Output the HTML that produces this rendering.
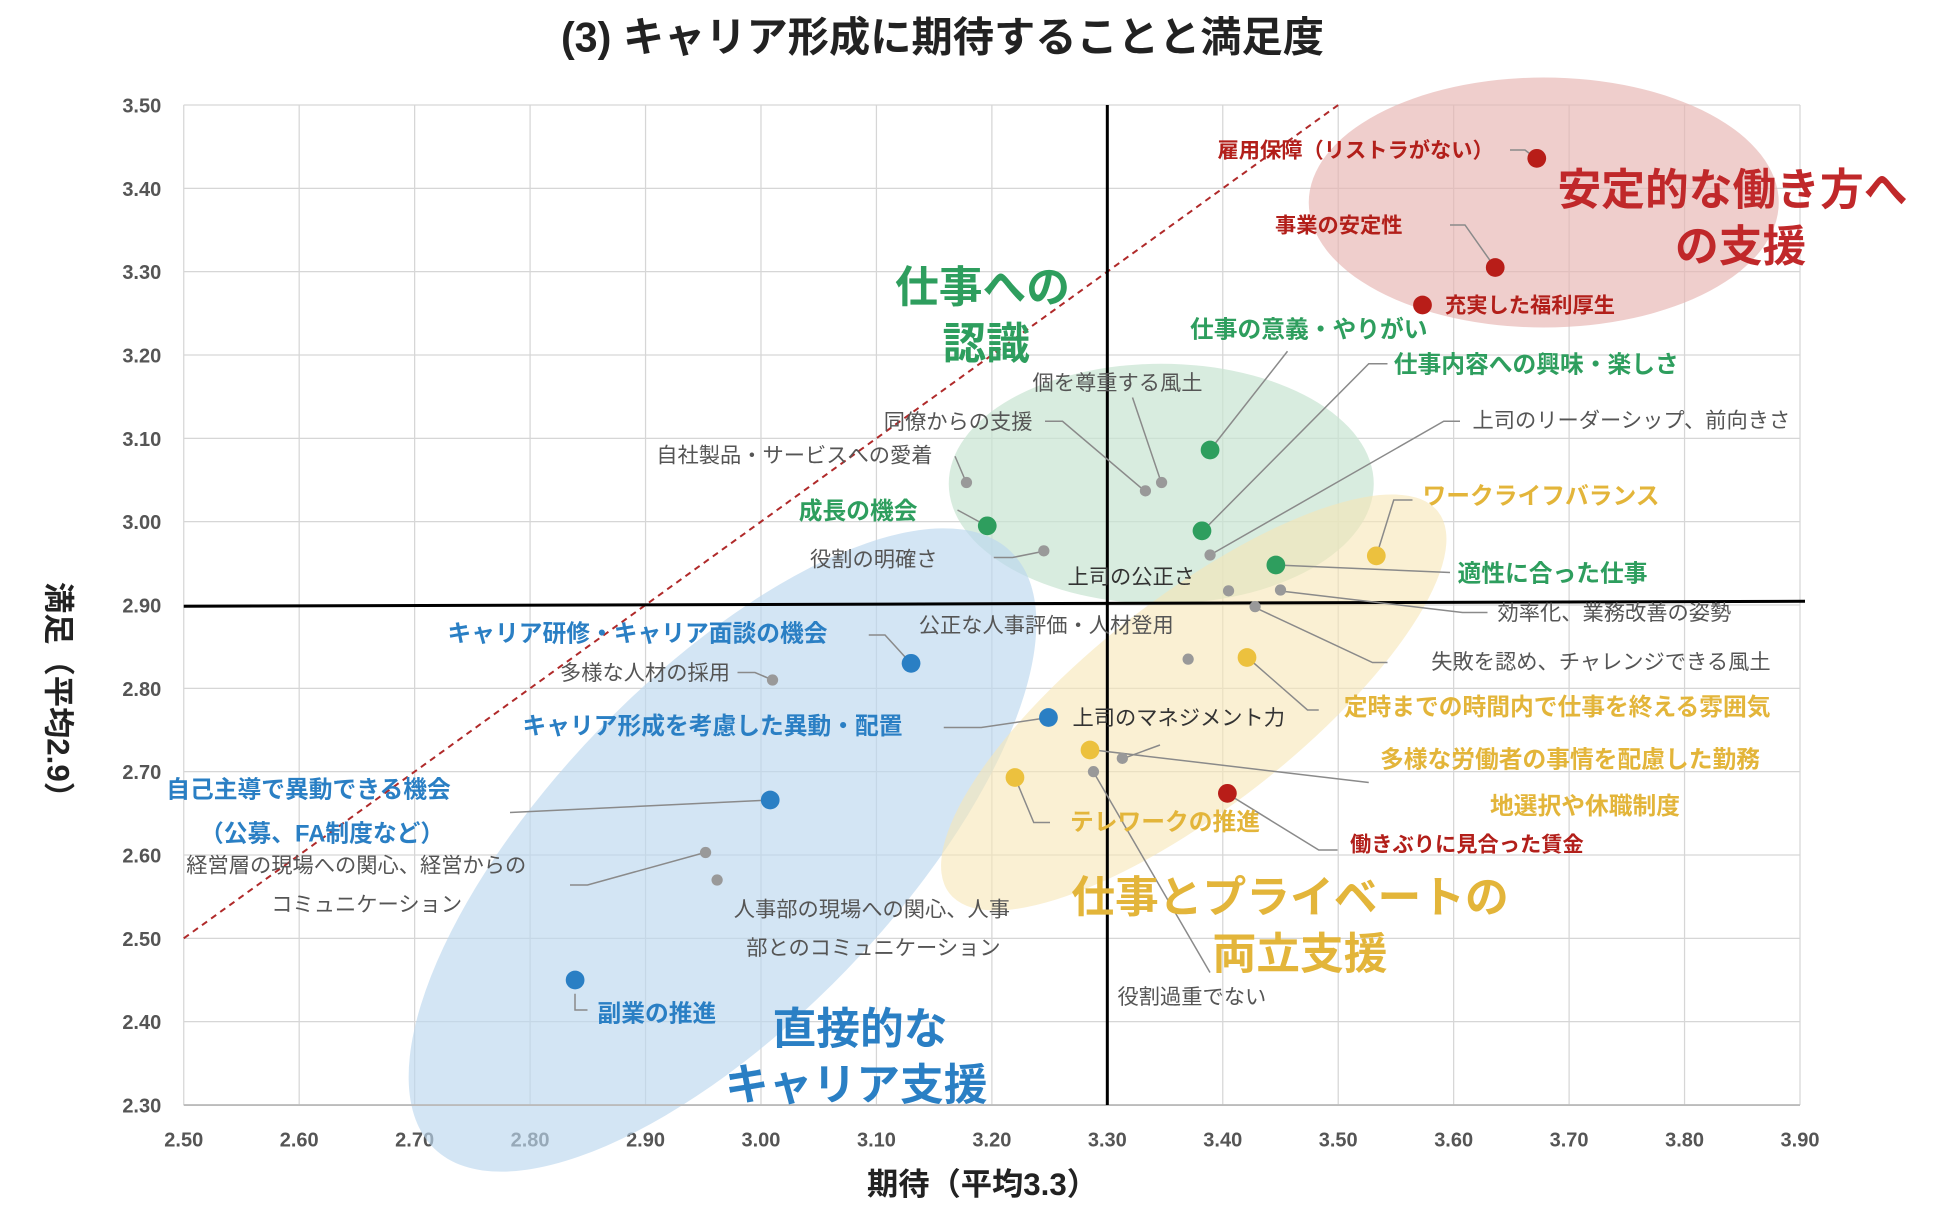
<!DOCTYPE html>
<html><head><meta charset="utf-8"><style>
html,body{margin:0;padding:0;background:#fff;}
svg{display:block;font-family:"Liberation Sans","Noto Sans CJK JP",sans-serif;}
</style></head><body>
<svg id="chart" width="1950" height="1215" viewBox="0 0 1560 972" xmlns="http://www.w3.org/2000/svg">
<text x="754" y="41" text-anchor="middle" font-size="33" font-weight="bold" fill="#222">(3) キャリア形成に期待することと満足度</text>
<g id="grid"></g>
<g id="zones">
<ellipse cx="1235" cy="162" rx="188" ry="100" fill="#e6b3b0" opacity="0.65"/>
<ellipse cx="929" cy="387" rx="170" ry="96" fill="#c8e4d2" opacity="0.7"/>
<ellipse cx="578" cy="680" rx="332" ry="138" transform="rotate(-46 578 680)" fill="#bcd7ee" opacity="0.65"/>
<ellipse cx="955" cy="562" rx="248" ry="84" transform="rotate(-38 955 562)" fill="#f6e6b6" opacity="0.6"/>
</g>
<g id="axes"></g>
<g id="leaders" stroke="#8a8a8a" stroke-width="1.2" fill="none">
<polyline points="1208,120 1220,120 1229,127"/>
<polyline points="1160,180 1172,180 1196,214"/>
<polyline points="1030,281 968,360"/>
<polyline points="1110,291 1095,291 962,425"/>
<polyline points="1168,337 1155,337 968,444"/>
<polyline points="1130,400 1115,400 1101,445"/>
<polyline points="1160,458 1021,452"/>
<polyline points="1190,490 1170,490 1026,473"/>
<polyline points="1110,530 1098,530 1004,486"/>
<polyline points="1055,568 1046,568 998,526"/>
<polyline points="1095,626 875,600"/>
<polyline points="928,596 898,607"/>
<polyline points="1070,680 1055,680 982,635"/>
<polyline points="840,658 827,658 812,622"/>
<polyline points="968,778 875,618"/>
<polyline points="764,365 773,386"/>
<polyline points="836,337 850,337 916,393"/>
<polyline points="906,318 929,386"/>
<polyline points="766,408 790,421"/>
<polyline points="795,446 810,446 835,441"/>
<polyline points="695,508 708,508 729,531"/>
<polyline points="590,538 604,538 618,544"/>
<polyline points="755,582 785,582 839,574"/>
<polyline points="408,650 616,640"/>
<polyline points="456,708 470,708 564,682"/>
<polyline points="460,795 460,808 470,808"/>
</g>
<g id="points"></g>
<g id="labels" font-size="17">
<g font-weight="bold" fill="#b21f1a">
<text x="1195" y="126" text-anchor="end">雇用保障（リストラがない）</text>
<text x="1122" y="186" text-anchor="end">事業の安定性</text>
<text x="1156" y="250">充実した福利厚生</text>
<text x="1080" y="681">働きぶりに見合った賃金</text>
</g>
<g font-weight="bold" fill="#2e9e5e" font-size="19">
<text x="1142" y="270" text-anchor="end">仕事の意義・やりがい</text>
<text x="1115" y="298">仕事内容への興味・楽しさ</text>
<text x="734" y="415" text-anchor="end">成長の機会</text>
<text x="1166" y="465">適性に合った仕事</text>
</g>
<g font-weight="bold" fill="#e3b53a" font-size="19">
<text x="1138" y="403">ワークライフバランス</text>
<text x="1075" y="572">定時までの時間内で仕事を終える雰囲気</text>
<text x="1104" y="614">多様な労働者の事情を配慮した勤務</text>
<text x="1192" y="651">地選択や休職制度</text>
<text x="856" y="664">テレワークの推進</text>
</g>
<g font-weight="bold" fill="#2a7fc4" font-size="19">
<text x="662" y="513" text-anchor="end">キャリア研修・キャリア面談の機会</text>
<text x="722" y="587" text-anchor="end">キャリア形成を考慮した異動・配置</text>
<text x="133" y="638">自己主導で異動できる機会</text>
<text x="160" y="673">（公募、FA制度など）</text>
<text x="478" y="817">副業の推進</text>
</g>
<g fill="#555">
<text x="826" y="312">個を尊重する風土</text>
<text x="826" y="343" text-anchor="end">同僚からの支援</text>
<text x="746" y="370" text-anchor="end">自社製品・サービスへの愛着</text>
<text x="1178" y="342">上司のリーダーシップ、前向きさ</text>
<text x="750" y="453" text-anchor="end">役割の明確さ</text>
<text x="854" y="467" fill="#333">上司の公正さ</text>
<text x="1198" y="496">効率化、業務改善の姿勢</text>
<text x="735" y="506">公正な人事評価・人材登用</text>
<text x="1145" y="535">失敗を認め、チャレンジできる風土</text>
<text x="584" y="544" text-anchor="end">多様な人材の採用</text>
<text x="858" y="580" fill="#333">上司のマネジメント力</text>
<text x="149" y="698">経営層の現場への関心、経営からの</text>
<text x="217" y="729">コミュニケーション</text>
<text x="587" y="733">人事部の現場への関心、人事</text>
<text x="597" y="764">部とのコミュニケーション</text>
<text x="894" y="803">役割過重でない</text>
</g>
<g font-weight="bold" font-size="35">
<text x="1246" y="164" fill="#c0282a">安定的な働き方へ</text>
<text x="1340" y="209" fill="#c0282a">の支援</text>
<text x="716" y="242" fill="#2e9e5e">仕事への</text>
<text x="754" y="287" fill="#2e9e5e">認識</text>
<text x="857" y="730" fill="#e3b53a">仕事とプライベートの</text>
<text x="970" y="775" fill="#e3b53a">両立支援</text>
<text x="618" y="835" fill="#2a7fc4">直接的な</text>
<text x="580" y="880" fill="#2a7fc4">キャリア支援</text>
</g>
</g>
<text x="786" y="956" text-anchor="middle" font-size="25" font-weight="bold" fill="#222">期待（平均3.3）</text>
<text transform="translate(38,558) rotate(90)" text-anchor="middle" font-size="25" font-weight="bold" fill="#222">満足（平均2.9）</text>
</svg>
<script>
const xTicks=[2.5,2.6,2.7,2.8,2.9,3.0,3.1,3.2,3.3,3.4,3.5,3.6,3.7,3.8,3.9];
const yTicks=[2.3,2.4,2.5,2.6,2.7,2.8,2.9,3.0,3.1,3.2,3.3,3.4,3.5];
const meanX=3.3, meanY=2.9;
const redX=[3.672,3.636,3.573,3.404];
const redY=[3.436,3.305,3.26,2.674];
const greenX=[3.389,3.382,3.196,3.446];
const greenY=[3.086,2.989,2.995,2.948];
const yellowX=[3.533,3.421,3.285,3.22];
const yellowY=[2.959,2.837,2.726,2.693];
const blueX=[3.13,3.249,3.008,2.839];
const blueY=[2.83,2.765,2.666,2.45];
const grayX=[3.178,3.333,3.347,3.245,3.389,3.405,3.45,3.428,3.37,3.313,3.288,3.01,2.952,2.962];
const grayY=[3.047,3.037,3.047,2.965,2.96,2.917,2.918,2.898,2.835,2.716,2.70,2.81,2.603,2.57];
const X0=147,X1=1440,Y0=884,Y1=84;
function sx(v){return X0+(v-2.5)/(3.9-2.5)*(X1-X0);}
function sy(v){return Y0-(v-2.3)/(3.5-2.3)*(Y0-Y1);}
const NS='http://www.w3.org/2000/svg';
function mk(tag,at,parent){const e=document.createElementNS(NS,tag);for(const k in at)e.setAttribute(k,at[k]);parent.appendChild(e);return e;}
const grid=document.getElementById('grid'),axes=document.getElementById('axes'),pts=document.getElementById('points');
xTicks.forEach(t=>{
 const l=mk('line',{x1:sx(t),x2:sx(t),y1:Y1,y2:Y0,stroke:'#d6d6d6','stroke-width':1},grid);
 
 
 const tx=mk('text',{x:sx(t),y:Y0+33,'text-anchor':'middle','font-size':16,'font-weight':'bold',fill:'#555'},grid);
 tx.textContent=t.toFixed(2);
 
 
});
yTicks.forEach(t=>{
 const l=mk('line',{x1:X0,x2:X1,y1:sy(t),y2:sy(t),stroke:'#d6d6d6','stroke-width':1},grid);
 
 
 const tx=mk('text',{x:X0-18,y:sy(t)+6,'text-anchor':'end','font-size':16,'font-weight':'bold',fill:'#555'},grid);
 tx.textContent=t.toFixed(2);
 
 
});
let b=mk('line',{x1:X0,x2:X1,y1:Y0,y2:Y0,stroke:'#bbb','stroke-width':1.5},axes);


let d=mk('line',{x1:sx(2.5),y1:sy(2.5),x2:sx(3.5),y2:sy(3.5),stroke:'#b02a2a','stroke-width':1.6,'stroke-dasharray':'5,4'},axes);


let mv=mk('line',{x1:sx(meanX),x2:sx(meanX),y1:Y1,y2:Y0,stroke:'#000','stroke-width':2.4},axes);


let mh=mk('line',{x1:X0,x2:1444,y1:sy(meanY)+1,y2:sy(meanY)-3,stroke:'#000','stroke-width':2.4},axes);


function series(xs,ys,col,r,name){xs.forEach((v,i)=>{const c=mk('circle',{cx:sx(v),cy:sy(ys[i]),r:r,fill:col},pts);
 
 });}
series(grayX,grayY,'#999',4.5,'point-gray');
series(redX,redY,'#b81d18',7.5,'point-red');
series(greenX,greenY,'#2e9e5e',7.5,'point-green');
series(yellowX,yellowY,'#ecc13e',7.5,'point-yellow');
series(blueX,blueY,'#2a7fc4',7.5,'point-blue');
</script>
</body></html>
